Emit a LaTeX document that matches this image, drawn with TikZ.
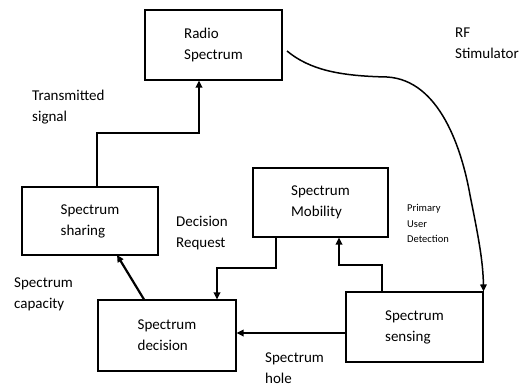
\documentclass[tikz,border=0pt]{standalone}
\usepackage{fontspec}
\setmainfont{Carlito}
\usetikzlibrary{arrows.meta}
\begin{document}
\begin{tikzpicture}[x=1pt,y=-1pt,
  box/.style={draw,line width=1.1pt,minimum width=#1,inner sep=0pt,align=left,
    font=\fontsize{15}{21}\selectfont},
  lbl/.style={anchor=west,align=left,inner sep=0pt,font=\fontsize{15}{21}\selectfont},
  small/.style={anchor=west,align=left,inner sep=0pt,font=\fontsize{10.5}{15.5}\selectfont},
  flow/.style={line width=2.2pt,-{Triangle[length=7pt,width=6.5pt]}},
  curv/.style={line width=1.5pt,-{Triangle[length=7pt,width=6.5pt]}}]
\useasboundingbox (0,0) rectangle (524,388);
\node[box=137pt,minimum height=70pt] (radio) at (213.5,45) {Radio\\Spectrum};
\node[box=136pt,minimum height=68pt] (sharing) at (90,221) {Spectrum\\sharing};
\node[box=135pt,minimum height=69pt] (mob) at (320.5,202.5) {Spectrum\\Mobility};
\node[box=138pt,minimum height=71pt] (dec) at (167,335.5) {Spectrum\\decision};
\node[box=137pt,minimum height=70pt] (sens) at (414.5,327) {Spectrum\\sensing};
\node[lbl] (rf) at (455,43.5) {RF\\Stimulator};
\node[lbl] (tx) at (32,107) {Transmitted\\signal};
\node[lbl] (dr) at (176,233.5) {Decision\\Request};
\node[lbl] (cap) at (14,294.5) {Spectrum\\capacity};
\node[lbl] (hole) at (265,368) {Spectrum\\hole};
\node[small] (pud) at (407,223.5) {Primary\\User\\Detection};
% connectors
\draw[flow] (sharing.north -| 97,0) -- (97,133) -- (199,133) -- (radio.south -| 199,0);
\draw[curv] (287,51) .. controls (310,70) and (340,76) .. (387,77)
  .. controls (440,80) and (462,150) .. (470,195)
  .. controls (478,235) and (483,260) .. (sens.north east);
\draw[flow] (mob.south -| 276,0) -- (276,268) -- (217,268) -- (dec.north -| 217,0);
\draw[flow] (sens.north -| 382,0) -- (382,265) -- (339,265) -- (mob.south -| 339,0);
\draw[flow] (sens.west |- 0,333) -- (dec.east |- 0,333);
\draw[flow] (dec.north -| 144,0) -- (117,255);
\end{tikzpicture}
\end{document}
